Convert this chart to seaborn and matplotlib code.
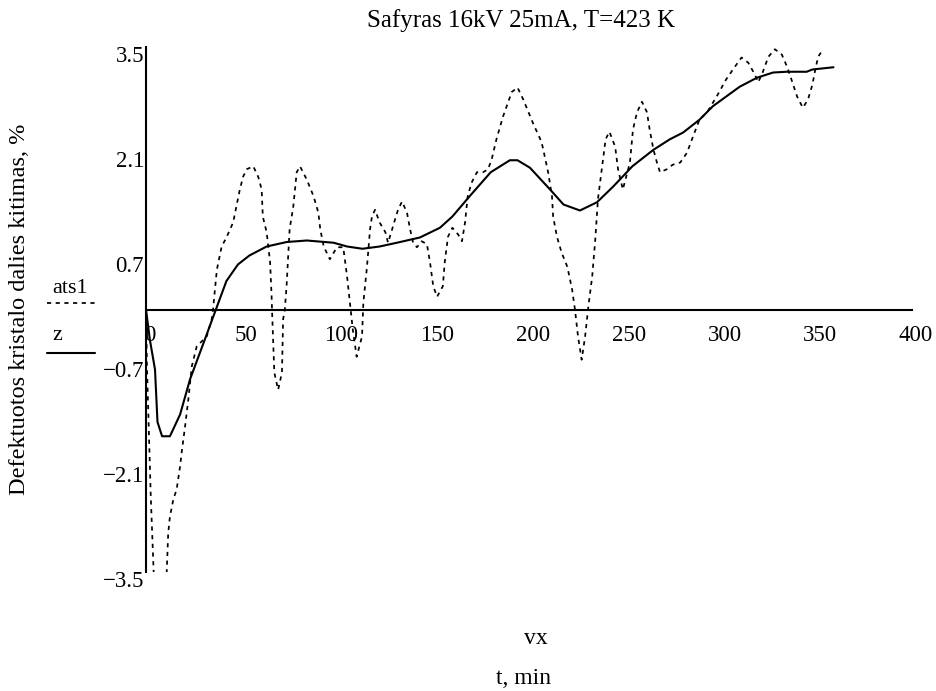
import numpy as np
import pandas as pd
import seaborn as sns
import matplotlib
matplotlib.use("Agg")
import matplotlib.pyplot as plt
from matplotlib.lines import Line2D
from matplotlib.transforms import ScaledTranslation

# ---------------- data ----------------
title = "Safyras 16kV 25mA, T=423 K"
y_label = "Defektuotos kristalo dalies kitimas, %"
x_label_1 = "vx"
x_label_2 = "t, min"
series_names = ["ats1", "z"]

x_ticks = [0, 50, 100, 150, 200, 250, 300, 350, 400]
x_tick_labels = ["0", "50", "100", "150", "200", "250", "300", "350", "400"]
y_ticks = [-3.5, -2.1, -0.7, 0.7, 2.1, 3.5]
y_tick_labels = ["\u22123.5", "\u22122.1", "\u22120.7", "0.7", "2.1", "3.5"]

# smooth curve z
t_z = [0, 2, 4.7, 6, 8.4, 12.5, 17.8, 23, 30, 36.5, 42, 48, 54, 63, 73.5, 84,
       98, 105, 113, 122, 131, 143, 153.5, 160, 169, 180, 190, 194, 200.5,
       211, 218, 226.6, 235.5, 244, 254, 265, 273.6, 280.5, 289, 296, 303,
       310, 319, 327.5, 334.7, 345, 348, 359]
z = [0, -0.4, -0.8, -1.5, -1.69, -1.69, -1.4, -0.93, -0.45, 0, 0.38, 0.6,
     0.72, 0.84, 0.9, 0.92, 0.89, 0.84, 0.81, 0.84, 0.89, 0.96, 1.09, 1.24,
     1.51, 1.83, 1.99, 1.99, 1.89, 1.6, 1.4, 1.32, 1.43, 1.64, 1.91, 2.13,
     2.27, 2.36, 2.53, 2.71, 2.84, 2.97, 3.09, 3.16, 3.17, 3.17, 3.2, 3.23]

# oscillating measured curve ats1
t_ats1 = [0, 0.5, 2.5, 4, 7.5, 10.8, 11.6, 12.5, 14.3, 16, 17.8, 18.6, 20.4,
          22.1, 23, 23.9, 26.5, 31.7, 34.3, 35, 37, 39.5, 42, 45.5, 49, 50.7,
          52.6, 56, 58.6, 60.4, 61, 63, 64.8, 65.6, 65.8, 67, 69, 71, 71.6,
          72.5, 73.4, 75, 76.9, 78.7, 80.4, 84, 87.5, 90, 91, 92.8, 96, 99.7,
          103, 105, 106.5, 108, 110, 112.8, 113.5, 115.4, 117, 118, 119.6,
          122, 125, 126.4, 129, 131.6, 133.7, 136.3, 137.9, 139.5, 141.5, 144,
          146.7, 148.3, 150, 152, 155, 156, 157.7, 160, 163, 165, 166.6, 168,
          170, 172.8, 176, 178.6, 180.5, 183, 186.4, 191, 194, 197, 202,
          206.6, 210, 212, 212.6, 214.6, 217, 220, 222.5, 224, 225.6, 227.5,
          229.3, 231, 233, 234.6, 236, 238, 240, 242, 245, 246.5, 249, 252.7,
          254.3, 256.4, 259, 261.6, 263, 265, 266.8, 268.4, 272, 275, 279,
          282.5, 285.7, 289, 293, 298, 303, 307.6, 311, 314.5, 318, 319.7,
          322, 325, 328.4, 332, 334.7, 337, 340, 343, 345.7, 348, 349.5, 351,
          353.6]
ats1 = [0, -0.76, -2.5, -3.5, -4.3, -3.51, -2.98, -2.76, -2.53, -2.4, -2.09,
        -1.91, -1.56, -1.2, -0.98, -0.76, -0.49, -0.36, -0.13, 0, 0.53, 0.84,
        0.96, 1.16, 1.6, 1.77, 1.87, 1.91, 1.77, 1.6, 1.24, 1.03, 0.63, 0.17,
        0, -0.84, -1.07, -0.84, -0.13, 0, 0.31, 1.07, 1.37, 1.83, 1.91, 1.73,
        1.51, 1.29, 1.07, 0.84, 0.67, 0.83, 0.83, 0.44, 0.09, -0.27, -0.63,
        -0.36, 0.09, 0.57, 1.07, 1.24, 1.33, 1.16, 1.03, 0.89, 1.11, 1.33,
        1.44, 1.29, 1.07, 0.89, 0.83, 0.91, 0.87, 0.63, 0.31, 0.17, 0.31,
        0.63, 0.97, 1.09, 1.0, 0.91, 1.16, 1.51, 1.69, 1.83, 1.83, 1.87, 2.0,
        2.27, 2.57, 2.9, 2.96, 2.8, 2.49, 2.23, 1.83, 1.51, 1.24, 0.97, 0.76,
        0.57, 0.27, 0, -0.36, -0.67, -0.36, 0.04, 0.44, 0.93, 1.47, 1.87,
        2.27, 2.37, 2.17, 1.87, 1.6, 1.96, 2.4, 2.63, 2.77, 2.63, 2.4, 2.13,
        1.96, 1.83, 1.87, 1.93, 1.96, 2.09, 2.31, 2.53, 2.63, 2.84, 3.07,
        3.24, 3.36, 3.29, 3.13, 3.03, 3.16, 3.37, 3.47, 3.4, 3.24, 3.07, 2.84,
        2.69, 2.8, 3.0, 3.2, 3.37, 3.47]

# ---------------- style ----------------
sns.set_style("white")
plt.rcParams["font.family"] = ["Liberation Serif", "DejaVu Serif"]
plt.rcParams["text.color"] = "black"
plt.rcParams["xtick.color"] = "black"
plt.rcParams["ytick.color"] = "black"
FS_TICK = 16.5
FS_TITLE = 18
FS_LABEL = 17.5
FS_X = 17
FS_LEG = 16

W, H = 936, 691
fig = plt.figure(figsize=(W / 100, H / 100), dpi=100)
ax = fig.add_axes([146 / W, 1 - 572 / H, (912 - 146) / W, (572 - 47) / H])

df_a = pd.DataFrame({"t": t_ats1, "v": ats1})
df_z = pd.DataFrame({"t": t_z, "v": z})
sns.lineplot(data=df_a, x="t", y="v", ax=ax, color="black", lw=1.25,
             linestyle=(0, (2.4, 2.6)), sort=False, estimator=None)
sns.lineplot(data=df_z, x="t", y="v", ax=ax, color="black", lw=1.5,
             sort=False, estimator=None)

ax.set_xlim(0, 400)
ax.set_ylim(-3.5, 3.5)
ax.set_xlabel("")
ax.set_ylabel("")

for s in ["top", "right"]:
    ax.spines[s].set_visible(False)
ax.spines["left"].set_position(("data", 0))
ax.spines["bottom"].set_position(("data", 0))
for s in ["left", "bottom"]:
    ax.spines[s].set_linewidth(1.5)
    ax.spines[s].set_color("black")

ax.set_xticks(x_ticks, x_tick_labels)
ax.set_yticks(y_ticks, y_tick_labels)
ax.tick_params(axis="x", direction="inout", length=10, width=1.5,
               pad=6.0, labelsize=FS_TICK, colors="black")
ax.tick_params(axis="y", direction="inout", length=8, width=1.5,
               pad=-2.5, labelsize=FS_TICK, colors="black")

for lbl in ax.get_xticklabels():
    lbl.set_transform(lbl.get_transform() + ScaledTranslation(4 / 100, 0, fig.dpi_scale_trans))
for lbl in ax.get_yticklabels():
    lbl.set_verticalalignment("top")
    lbl.set_transform(lbl.get_transform() + ScaledTranslation(0, 1 / 100, fig.dpi_scale_trans))

# titles / labels
fig.text(521 / W, 1 - 21 / H, title, ha="center", va="center", fontsize=FS_TITLE)
fig.text(20 / W, 1 - 309 / H, y_label, ha="center", va="center",
         rotation=90, fontsize=FS_LABEL)
fig.text(536 / W, 1 - 638 / H, x_label_1, ha="center", va="center", fontsize=FS_X)
fig.text(523 / W, 1 - 678 / H, x_label_2, ha="center", va="center", fontsize=FS_X)

# Mathcad-style legend (name above line sample)
fig.text(52 / W, 1 - 289 / H, series_names[0], ha="left", va="center", fontsize=FS_LEG)
fig.add_artist(Line2D([47 / W, 95 / W], [1 - 303 / H, 1 - 303 / H],
                      transform=fig.transFigure, color="black", lw=1.25,
                      linestyle=(0, (2.4, 2.6))))
fig.text(52 / W, 1 - 335 / H, series_names[1], ha="left", va="center", fontsize=FS_LEG)
fig.add_artist(Line2D([47 / W, 95 / W], [1 - 353 / H, 1 - 353 / H],
                      transform=fig.transFigure, color="black", lw=1.5))

fig.savefig("out.png", dpi=100, facecolor="white")
